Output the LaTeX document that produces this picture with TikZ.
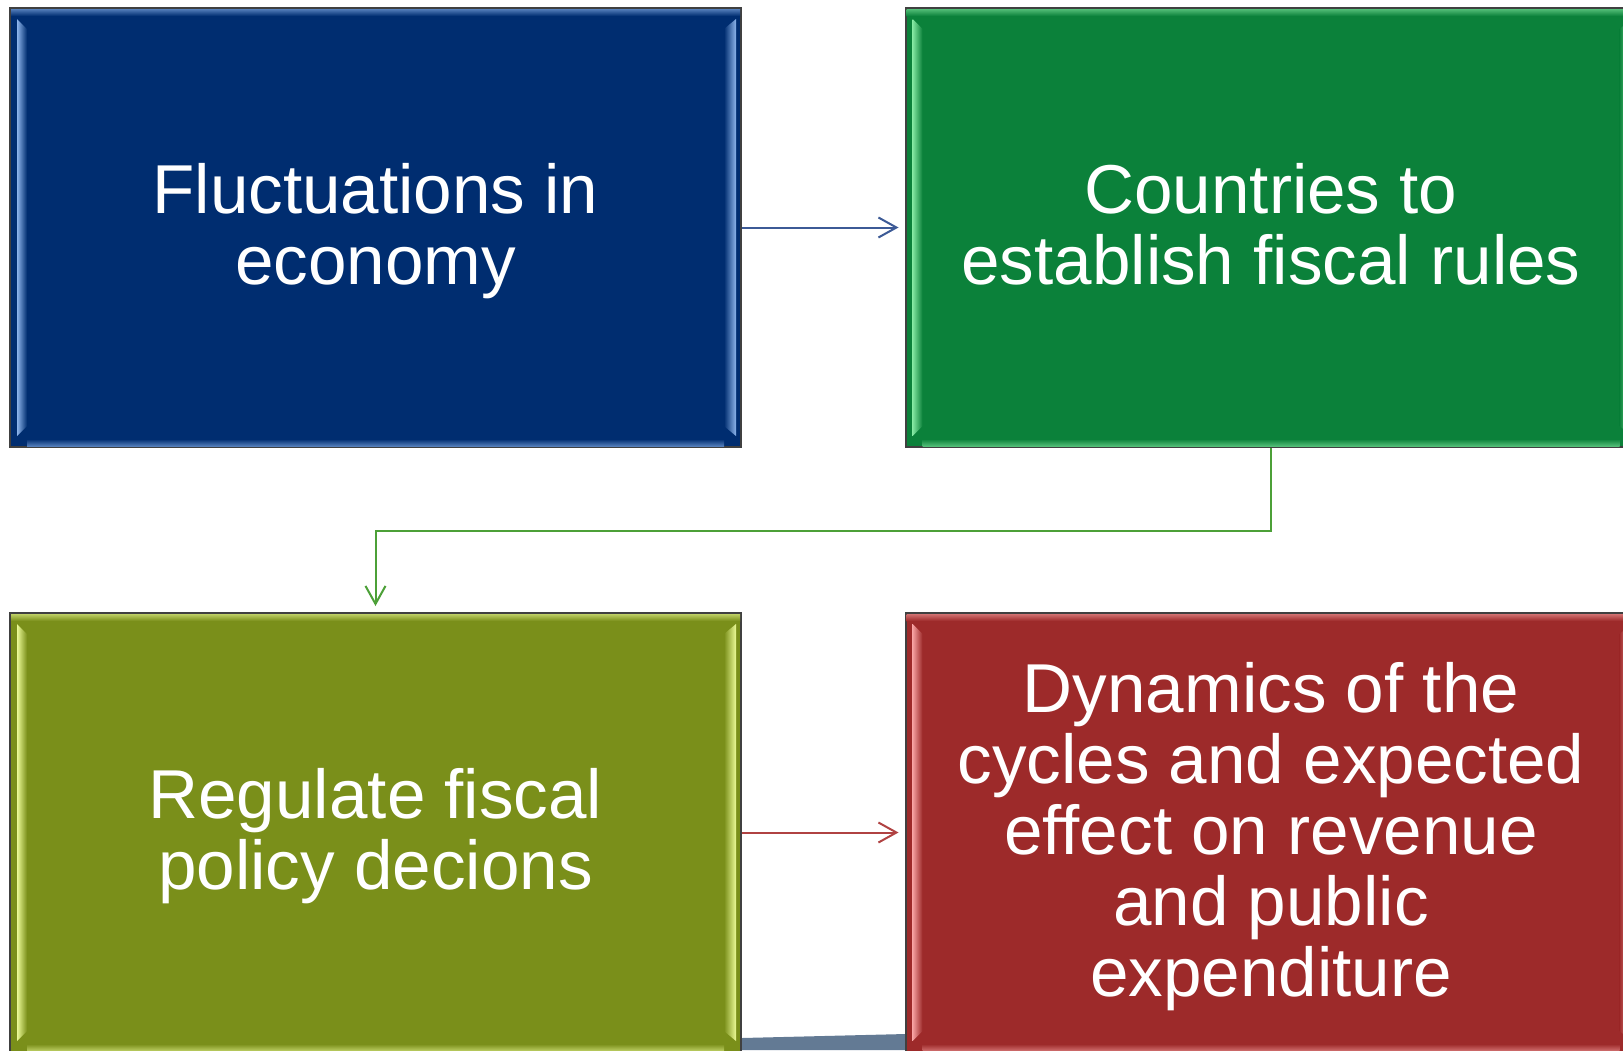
\documentclass[tikz,border=0pt]{standalone}
\usepackage{fontspec}
\setmainfont{Liberation Sans}
\usepackage{xcolor}
\definecolor{ColBlue}{RGB}{0,45,112}
\definecolor{ColGreen}{RGB}{11,129,58}
\definecolor{ColOlive}{RGB}{122,143,26}
\definecolor{ColRed}{RGB}{157,42,42}
\definecolor{LitBlue}{RGB}{140,180,235}
\definecolor{LitGreen}{RGB}{130,230,160}
\definecolor{LitOlive}{RGB}{235,250,150}
\definecolor{LitRed}{RGB}{245,160,160}
\definecolor{ColSlate}{RGB}{99,122,148}
\definecolor{LinkBlue}{RGB}{60,90,150}
\definecolor{LinkGreen}{RGB}{76,160,56}
\definecolor{LinkRed}{RGB}{176,66,66}
\usepackage{tikz}
\usetikzlibrary{arrows.meta}
\tikzstyle{Box}=[rectangle,draw=black!75,line width=1pt,inner sep=0pt,
minimum width=365.5pt,minimum height=219.5pt,text=white,align=center,
font=\fontsize{34.6}{35.5}\selectfont]
\tikzstyle{Link}=[line width=1pt,
-{Straight Barb[length=9pt,width=10pt,line width=1pt]},shorten >=3pt]
% light edges inside a box: #1 node, #2 light colour, #3 fill colour
\newcommand{\Bevel}[3]{%
    \shade[left color=#2,right color=#3]
        ([xshift=4pt,yshift=-6pt]#1.north west)
        -- ([xshift=9pt,yshift=-11pt]#1.north west)
        -- ([xshift=9pt,yshift=11pt]#1.south west)
        -- ([xshift=4pt,yshift=6pt]#1.south west) -- cycle;
    \shade[left color=#3,right color=#2]
        ([xshift=-9pt,yshift=-11pt]#1.north east)
        -- ([xshift=-3pt,yshift=-6pt]#1.north east)
        -- ([xshift=-3pt,yshift=6pt]#1.south east)
        -- ([xshift=-9pt,yshift=11pt]#1.south east) -- cycle;
    \shade[top color=#2!60!#3,bottom color=#3]
        ([xshift=1pt,yshift=-1pt]#1.north west)
        rectangle ([xshift=-1pt,yshift=-4.5pt]#1.north east);
    \shade[top color=#3,bottom color=#2!60!#3]
        ([xshift=9pt,yshift=4.5pt]#1.south west)
        rectangle ([xshift=-9pt,yshift=1pt]#1.south east);
}

\begin{document}
\begin{tikzpicture}[x=0.5pt,y=-0.5pt]
    \path[use as bounding box,clip](0,0)rectangle(1623,1050);
    \fill[white](0,0)rectangle(1623,1050);
    \fill[ColSlate](742,1038)--(906,1034)--(906,1050)--(742,1050)--cycle;
    \node[Box,fill=ColBlue](fluct)at(375.5,227.5){};
    \node[Box,fill=ColGreen](rules)at(1271,227.5){};
    \node[Box,fill=ColOlive](regulate)at(375.5,832.5){};
    \node[Box,fill=ColRed](dynamics)at(1271,832.5){};
    \Bevel{fluct}{LitBlue}{ColBlue}
    \Bevel{rules}{LitGreen}{ColGreen}
    \Bevel{regulate}{LitOlive}{ColOlive}
    \Bevel{dynamics}{LitRed}{ColRed}
    % texts
    \node[Box,draw=none](fluctT)at([yshift=-2pt]fluct.center)
        {Fluctuations in\\economy};
    \node[Box,draw=none](rulesT)at([yshift=-2pt]rules.center)
        {Countries to\\establish fiscal rules\vphantom{y}};
    \node[Box,draw=none](regulateT)at([yshift=-2pt]regulate.center)
        {Regulate fiscal\\policy decions};
    \node[Box,draw=none](dynamicsT)at([yshift=-2pt]dynamics.center)
        {Dynamics of the\\cycles and expected\\effect on revenue\\and public\\expenditure};
    % links
    \draw[Link,draw=LinkBlue](fluct.east)--(rules.west);
    \draw[Link,draw=LinkGreen](rules.south)--++(0,83)
        -|(regulate.north);
    \draw[Link,draw=LinkRed](regulate.east)--(dynamics.west);
\end{tikzpicture}
\end{document}
